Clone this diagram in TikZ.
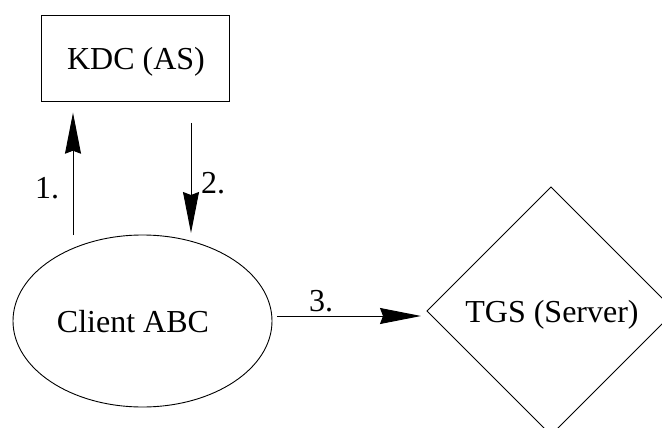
\documentclass[tikz,border=0pt]{standalone}
\usepackage{fontspec}
\setmainfont{Liberation Serif}
\usetikzlibrary{shapes.geometric,arrows.meta}

\begin{document}
\begin{tikzpicture}[x=1pt,y=-1pt,
  every node/.style={inner sep=0pt,outer sep=0pt},
  shapeline/.style={draw=black,line width=0.9pt},
  txt/.style={font=\fontsize{32}{38}\selectfont,anchor=base},
  arr/.style={line width=0.9pt,-{Stealth[length=41pt,width=16pt,inset=3pt]}}]
  \useasboundingbox (0,0) rectangle (662,428);
  \clip (0,0) rectangle (662,428);

  % shapes
  \node[shapeline,rectangle,minimum width=188pt,minimum height=86pt] (kdc) at (135,58) {};
  \node[shapeline,ellipse,minimum width=259pt,minimum height=172pt] (client) at (142.5,321) {};
  \node[shapeline,diamond,minimum width=248pt,minimum height=248pt] (tgs) at (551,311) {};

  % captions
  \node[txt] (kdctxt) at (136,70) {KDC (AS)};
  \node[txt] (clienttxt) at (133,332) {Client ABC};
  \node[txt] (tgstxt) at (552,322) {TGS (Server)};

  % message flow
  \coordinate (x1) at (73,0);
  \coordinate (x2) at (191,0);
  \coordinate (y3) at (0,316);
  \draw[arr,shorten >=11.7pt] (client.north -| x1) -- (kdc.south -| x1);
  \draw[arr,shorten <=22pt,shorten >=2pt] (kdc.south -| x2) -- (client.north -| x2);
  \draw[arr,shorten <=5pt,shorten >=6pt] (client.east |- y3) -- (tgs.west |- y3);

  \node[txt] (l1) at (47,198) {1.};
  \node[txt] (l2) at (213,193) {2.};
  \node[txt] (l3) at (321,311.7) {3.};
\end{tikzpicture}
\end{document}
